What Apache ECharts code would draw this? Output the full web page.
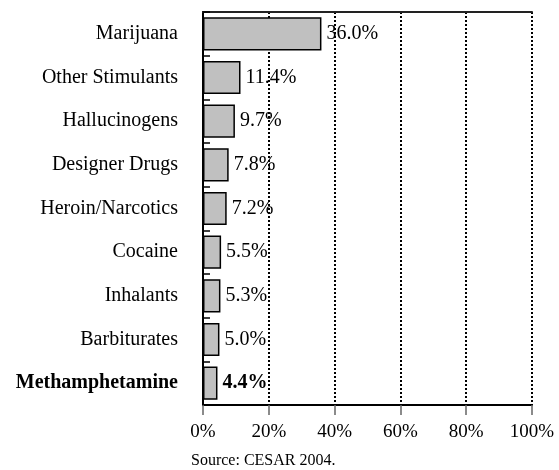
<!DOCTYPE html>
<html><head><meta charset="utf-8">
<script src="https://cdn.jsdelivr.net/npm/echarts@6/dist/echarts.min.js"></script>
<style>html,body{margin:0;padding:0;background:#fff}#c{width:559px;height:470px}</style>
</head><body><div id="c"></div>
<script>
var categories = ["Marijuana","Other Stimulants","Hallucinogens","Designer Drugs","Heroin/Narcotics","Cocaine","Inhalants","Barbiturates","Methamphetamine"];
var values = [36.0, 11.4, 9.7, 7.8, 7.2, 5.5, 5.3, 5.0, 4.4];
var highlight = "Methamphetamine";
var xTicks = [0, 20, 40, 60, 80, 100];
var source = "Source: CESAR 2004.";

var font = "'Liberation Serif', 'Times New Roman', serif";
var chart = echarts.init(document.getElementById('c'), null, {renderer: 'canvas'});
chart.setOption({
  animation: false,
  backgroundColor: '#fff',
  grid: {left: 203, right: 27, top: 12, bottom: 65, containLabel: false},
  xAxis: [{
    type: 'value', min: xTicks[0], max: xTicks[xTicks.length - 1], interval: xTicks[1] - xTicks[0],
    position: 'bottom',
    axisLine: {show: true, lineStyle: {color: '#000', width: 2}},
    axisTick: {show: true, length: 10, lineStyle: {color: '#666', width: 1.5}},
    axisLabel: {margin: 18, color: '#000', fontFamily: font, fontSize: 19, formatter: function(v){return v + '%';}},
    splitLine: {show: true, lineStyle: {color: '#000', width: 2, type: [2, 2]}}
  }, {
    type: 'value', min: 0, max: 100, position: 'top',
    axisLine: {show: true, lineStyle: {color: '#222', width: 2}},
    axisTick: {show: false}, axisLabel: {show: false}, splitLine: {show: false}
  }],
  yAxis: [{
    type: 'category', data: categories, inverse: true, position: 'left',
    axisLine: {show: true, lineStyle: {color: '#000', width: 2, type: [2, 2]}},
    axisTick: {show: true, inside: true, length: 7, lineStyle: {color: '#000', width: 1.5}},
    axisLabel: {margin: 25, color: '#000', fontFamily: font, fontSize: 20,
      formatter: function(v){ return v === highlight ? '{b|' + v + '}' : v; },
      rich: {b: {fontWeight: 'bold', fontFamily: font, fontSize: 20, color: '#000'}}}
  }, {
    type: 'category', data: categories, inverse: true, position: 'right',
    axisLine: {show: true, lineStyle: {color: '#000', width: 2}},
    axisTick: {show: false}, axisLabel: {show: false}
  }],
  series: [{
    type: 'bar', xAxisIndex: 0, yAxisIndex: 0,
    data: values.map(function(v, i){
      var d = {value: v};
      if (categories[i] === highlight) d.label = {fontWeight: 'bold'};
      return d;
    }),
    barCategoryGap: '24%',
    itemStyle: {color: '#c0c0c0', borderColor: '#000', borderWidth: 1.5},
    label: {show: true, position: 'right', distance: 5, color: '#000', fontFamily: font, fontSize: 20,
      formatter: function(p){ return p.value.toFixed(1) + '%'; }}
  }],
  graphic: [{
    type: 'text', left: 191, top: 453,
    style: {text: source, fill: '#000', font: '16px ' + font}
  }]
});
</script></body></html>
